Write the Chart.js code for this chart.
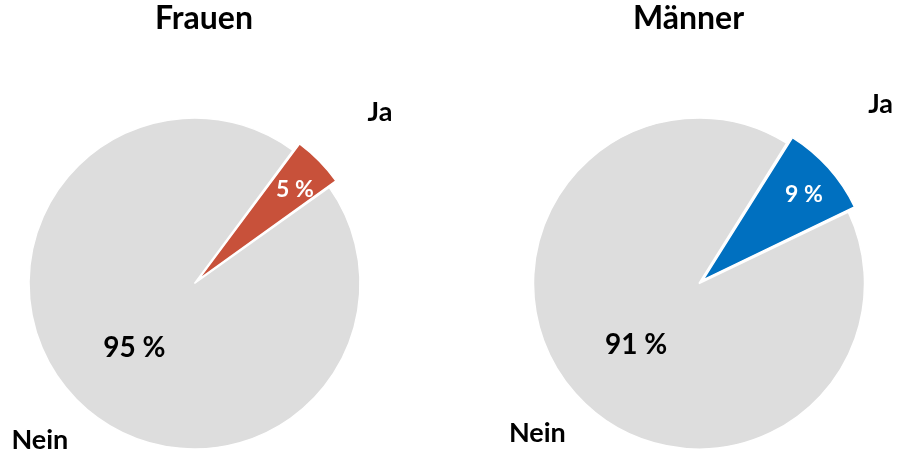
<!DOCTYPE html>
<html>
<head>
<meta charset="utf-8">
<script src="https://cdn.jsdelivr.net/npm/chart.js@4/dist/chart.umd.min.js"></script>
<style>
    body {margin:0; background:#fff; width:897px; height:454px; position:relative; overflow:hidden;}
    #chart1 {position:absolute; left:0; top:0;}
    #chart2 {position:absolute; left:480px; top:0;}
</style>
</head>
<body>
<canvas id="chart1" width="408" height="454"></canvas>
<canvas id="chart2" width="417" height="454"></canvas>
<script>
const answers = ['Ja', 'Nein'];
const frauen = [5, 95];
const maenner = [9, 91];
const titleFrauen = 'Frauen';
const titleMaenner = 'Männer';

const grey = '#dddddd';

// draws title, outside category names and percent labels from the arc geometry
const labelPlugin = {
    id: 'pieLabels',
    afterDraw(chart, args, opts) {
        const ctx = chart.ctx;
        const meta = chart.getDatasetMeta(0);
        const values = chart.data.datasets[0].data;
        ctx.save();
        ctx.textAlign = 'center';
        ctx.fillStyle = '#000';
        ctx.font = 'bold 32px Lato';
        ctx.fillText(opts.title, chart.width / 2, 29);

        meta.data.forEach((arc, i) => {
            const mid = (arc.startAngle + arc.endAngle) / 2;
            const r = arc.outerRadius;
            const x = arc.x, y = arc.y;

            //percent inside the slice
            const fIn = i == 0 ? 0.85 : 0.51;
            const size = i == 0 ? 23 : 28;
            ctx.font = `bold ${size}px Lato`;
            ctx.fillStyle = i == 0 ? '#fff' : '#000';
            ctx.fillText(values[i] + ' %', x + Math.cos(mid) * r * fIn, y + Math.sin(mid) * r * fIn + size * 0.36 + 4);

            //category name outside
            const fOut = i == 0 ? 1.52 : 1.31;
            const nudge = i == 0 ? opts.jaNudge : [0, 0];
            ctx.font = 'bold 27px Lato';
            ctx.fillStyle = '#000';
            ctx.fillText(chart.data.labels[i], x + Math.cos(mid) * r * fOut + nudge[0], y + Math.sin(mid) * r * fOut + 27 * 0.36 + 4 + nudge[1]);
        });
        ctx.restore();
    }
};

function createOptions(values, color, rotation, title, padding, jaNudge) {
    return {
        type: 'pie',
        data: {
            labels: answers,
            datasets: [{
                data: values,
                backgroundColor: [color, grey],
                borderColor: '#fff',
                borderWidth: 1.5,
                offset: [22, 0]
            }]
        },
        options: {
            responsive: false,
            animation: false,
            rotation: rotation,
            radius: 165.5,
            layout: {padding: padding},
            plugins: {
                legend: {display: false},
                tooltip: {enabled: false},
                pieLabels: {title: title, jaNudge: jaNudge}
            }
        },
        plugins: [labelPlugin]
    };
}

const ctx1 = document.getElementById('chart1').getContext('2d');
const ctx2 = document.getElementById('chart2').getContext('2d');

window.pie1 = new Chart(ctx1, createOptions(frauen, '#c8513a', 36.5, titleFrauen, {left: 0, right: 19, top: 113, bottom: 0}, [6, 0]));
window.pie2 = new Chart(ctx2, createOptions(maenner, '#0070c0', 32, titleMaenner, {left: 21, right: 0, top: 113, bottom: 0}, [-6, -17]));
</script>
</body>
</html>
